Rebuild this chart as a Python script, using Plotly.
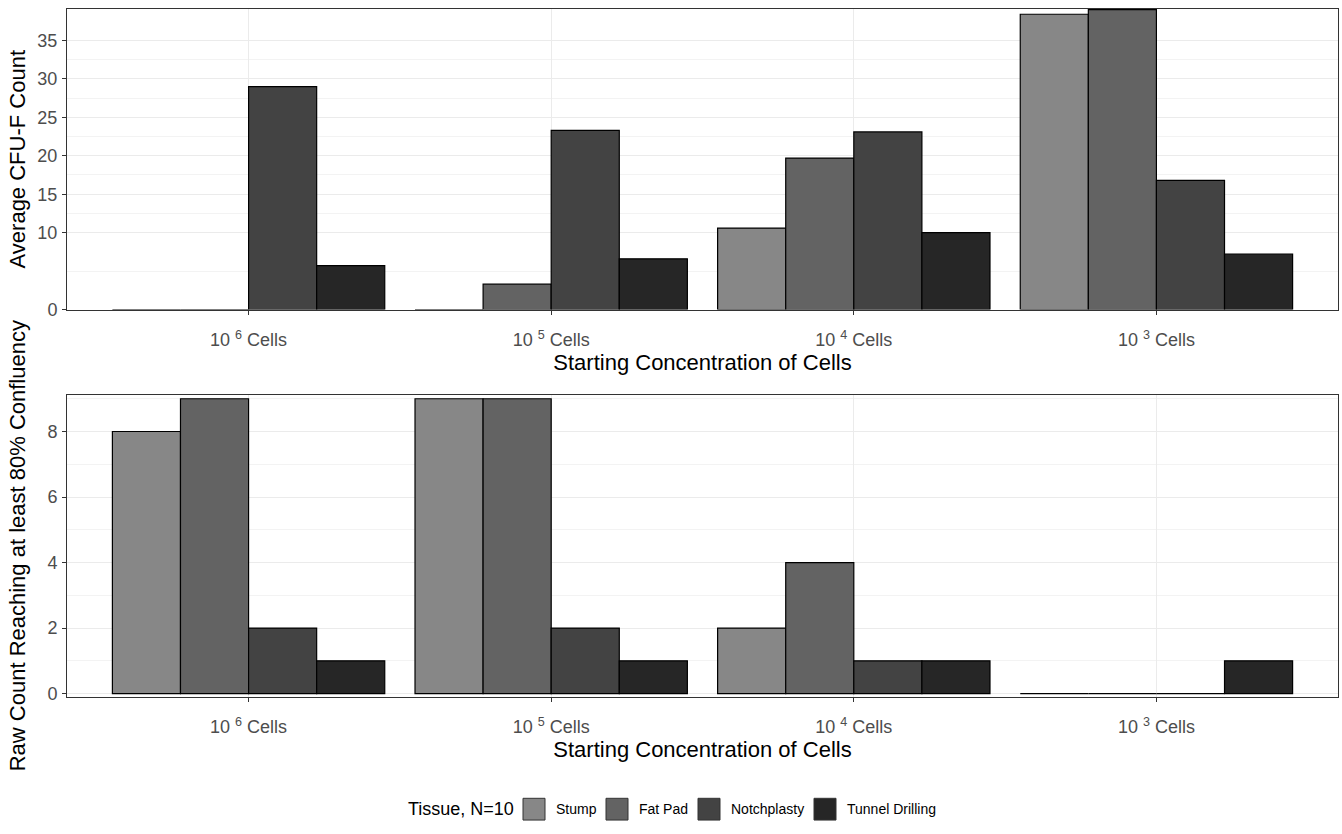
import plotly.graph_objects as go

categories = ["10 <sup>6</sup> Cells", "10 <sup>5</sup> Cells", "10 <sup>4</sup> Cells", "10 <sup>3</sup> Cells"]
tissues = ["Stump", "Fat Pad", "Notchplasty", "Tunnel Drilling"]
fills = ["#878787", "#636363", "#434343", "#262626"]

avg_cfu = {
    "Stump": [0, 0, 10.6, 38.4],
    "Fat Pad": [0, 3.3, 19.7, 39.0],
    "Notchplasty": [29.0, 23.3, 23.1, 16.8],
    "Tunnel Drilling": [5.7, 6.6, 10.0, 7.2],
}
raw_count = {
    "Stump": [8, 9, 2, 0],
    "Fat Pad": [9, 9, 4, 0],
    "Notchplasty": [2, 2, 1, 0],
    "Tunnel Drilling": [1, 1, 1, 1],
}

top_ticks = [0, 10, 15, 20, 25, 30, 35]
top_minor = [5, 12.5, 17.5, 22.5, 27.5, 32.5]
bot_ticks = [0, 2, 4, 6, 8]
bot_minor = [1, 3, 5, 7, 9]

legend_title = "Tissue, N=10"

W, H = 1342, 834
FONT = "Liberation Sans, Arial, sans-serif"

fig = go.Figure()
for t, c in zip(tissues, fills):
    fig.add_trace(go.Bar(x=categories, y=avg_cfu[t], name=t,
                         marker=dict(color=c, line=dict(color="black", width=1.2)),
                         xaxis="x", yaxis="y", showlegend=False, cliponaxis=False))
for t, c in zip(tissues, fills):
    fig.add_trace(go.Bar(x=categories, y=raw_count[t], name=t,
                         marker=dict(color=c, line=dict(color="black", width=1.2)),
                         xaxis="x2", yaxis="y2", showlegend=False, cliponaxis=False))

def px_x(p):
    return p / W

def px_y(p):
    return 1 - p / H

axis_common = dict(showline=True, linecolor="#333333", linewidth=1, mirror=True,
                   ticks="outside", ticklen=4, tickcolor="#333333",
                   tickfont=dict(family=FONT, size=18, color="#4D4D4D"),
                   gridcolor="#EBEBEB", gridwidth=1, zeroline=False)

xa = dict(axis_common, type="category", range=[-0.6, 3.6], ticklabelstandoff=10,
          title=dict(text="Starting Concentration of Cells",
                     font=dict(family=FONT, size=22, color="black"), standoff=2))

# legend drawn with keys sized like the reference
key_left = [523, 606, 698, 814]
key_size = 22
label_gap = 9
shapes = []
annotations = []
for kl, t, c in zip(key_left, tissues, fills):
    shapes.append(dict(type="rect", xref="paper", yref="paper",
                       x0=px_x(kl), x1=px_x(kl + key_size), y0=px_y(830), y1=px_y(808),
                       fillcolor=c, line=dict(color="#333333", width=1)))
    annotations.append(dict(text=t, xref="paper", yref="paper", x=px_x(kl + key_size + label_gap), y=px_y(819),
                            xanchor="left", yanchor="middle", showarrow=False,
                            font=dict(family=FONT, size=14, color="black")))
annotations.append(dict(text=legend_title, xref="paper", yref="paper", x=px_x(516), y=px_y(819),
                        xanchor="right", yanchor="middle", showarrow=False,
                        font=dict(family=FONT, size=18, color="black")))

fig.update_layout(
    autosize=True,
    margin=dict(l=0, r=0, t=0, b=0),
    paper_bgcolor="white", plot_bgcolor="white",
    barmode="group", bargap=0.1, bargroupgap=0,
    font=dict(family=FONT, color="black"),
    showlegend=False,
    xaxis=dict(xa, domain=[px_x(67), px_x(1338)], anchor="y"),
    xaxis2=dict(xa, domain=[px_x(67), px_x(1338)], anchor="y2"),
    yaxis=dict(axis_common, domain=[px_y(313.3), px_y(9)], range=[0, 39.1], anchor="x",
               tickmode="array", tickvals=top_ticks, ticktext=[str(v) for v in top_ticks],
               ticklabelstandoff=1,
               minor=dict(tickmode="array", tickvals=top_minor, showgrid=True,
                          gridcolor="#F3F3F3", gridwidth=1, ticks=""),
               title=dict(text="Average CFU-F Count", font=dict(family=FONT, size=22, color="black"),
                          standoff=5)),
    yaxis2=dict(axis_common, domain=[px_y(705.3), px_y(399.3)], range=[-0.1, 9.13], anchor="x2",
                tickmode="array", tickvals=bot_ticks, ticktext=[str(v) for v in bot_ticks],
                ticklabelstandoff=1,
                minor=dict(tickmode="array", tickvals=bot_minor, showgrid=True,
                           gridcolor="#F3F3F3", gridwidth=1, ticks=""),
                title=dict(text="Raw Count Reaching at least 80% Confluency",
                           font=dict(family=FONT, size=22, color="black"), standoff=15)),
    shapes=shapes,
    annotations=annotations,
)

post = (
    "document.documentElement.style.margin='0';document.documentElement.style.overflow='hidden';"
    "document.body.style.margin='0';document.body.style.overflow='hidden';"
    "var d=document.querySelector('.plotly-graph-div');"
    "d.style.position='fixed';d.style.left='0px';d.style.top='0px';"
    "d.style.width='100vw';d.style.height='100vh';"
    "Plotly.Plots.resize(d);"
)
fig.write_html("out.html", default_width="100vw", default_height="100vh",
               config={"displayModeBar": False, "responsive": True}, post_script=post)
